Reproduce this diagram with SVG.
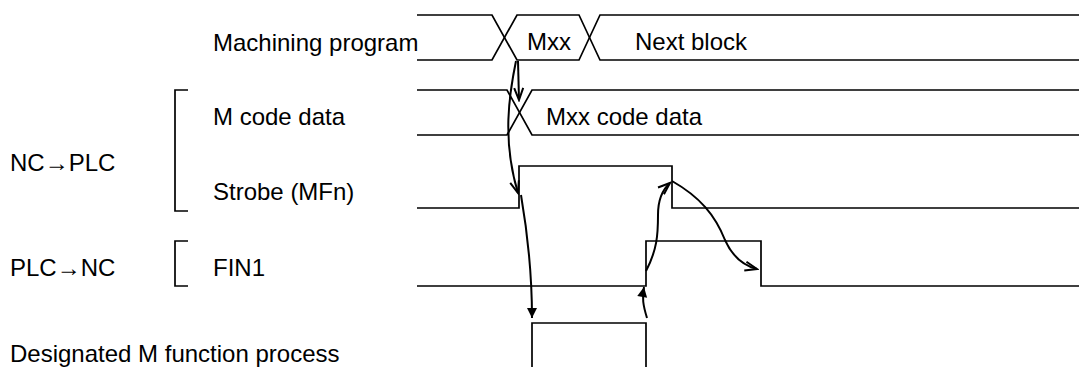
<svg xmlns="http://www.w3.org/2000/svg" width="1079" height="367" viewBox="0 0 1079 367">
<style>
text{font-family:"Liberation Sans",Arial,sans-serif;font-size:24px;fill:#000}
.sig{fill:none;stroke:#000;stroke-width:1.7}
.arr{fill:none;stroke:#000;stroke-width:2}
</style>
<defs>
<marker id="open" markerUnits="userSpaceOnUse" markerWidth="16" markerHeight="12" viewBox="-14 -6 16 12" refX="0" refY="0" orient="auto">
<path d="M-12,-4.5 L0,0 L-12,4.5" fill="none" stroke="#000" stroke-width="2"/>
</marker>
<marker id="fill" markerUnits="userSpaceOnUse" markerWidth="14" markerHeight="12" viewBox="-12 -6 14 12" refX="0" refY="0" orient="auto">
<path d="M-10,-5 L0,0 L-10,5 Z" fill="#000"/>
</marker>
</defs>
<rect width="1079" height="367" fill="#fff"/>
<g id="labels">
<text x="10" y="171">NC→PLC</text>
<text x="10" y="276">PLC→NC</text>
<text x="10" y="362">Designated M function process</text>
<path class="sig" d="M188,90 H175 V211 H188"/>
<path class="sig" d="M188,241 H175 V286 H188"/>
</g>
<g id="machining-program">
<text x="213" y="51">Machining program</text>
<path class="sig" d="M417,15 H492 L517,60 H579 L600,15 H1079"/>
<path class="sig" d="M417,60 H492 L517,15 H579 L600,60 H1079"/>
<text x="527" y="50">Mxx</text>
<text x="635" y="50">Next block</text>
</g>
<g id="m-code-data">
<text x="213" y="125">M code data</text>
<path class="sig" d="M417,90 H507 L532,135 H1079"/>
<path class="sig" d="M417,135 H507 L532,90 H1079"/>
<text x="546" y="125">Mxx code data</text>
</g>
<g id="strobe">
<text x="213" y="200">Strobe (MFn)</text>
<path class="sig" d="M417,208 H519 V166 H672 V208 H1079"/>
</g>
<g id="fin1">
<text x="213" y="276">FIN1</text>
<path class="sig" d="M417,286 H646 V241 H761 V286 H1079"/>
</g>
<g id="m-function-process">
<path class="sig" d="M532,367 V323 H646 V367"/>
</g>
<g id="connectors">
<path class="arr" d="M518,61 L519,100" marker-end="url(#open)"/>
<path class="arr" d="M516,61 C509,95 502,140 518,193" marker-end="url(#open)"/>
<path class="arr" d="M521,195 C527,230 532,270 532,318" marker-end="url(#fill)"/>
<path class="arr" d="M647,318 C643,305 642,298 644,287" marker-end="url(#fill)"/>
<path class="arr" d="M646,271 C657,250 658,235 658,215 C658,200 662,190 670,183" marker-end="url(#open)"/>
<path class="arr" d="M672,181 C700,197 715,215 725,240 C733,258 745,266 757,269" marker-end="url(#open)"/>
</g>
</svg>
